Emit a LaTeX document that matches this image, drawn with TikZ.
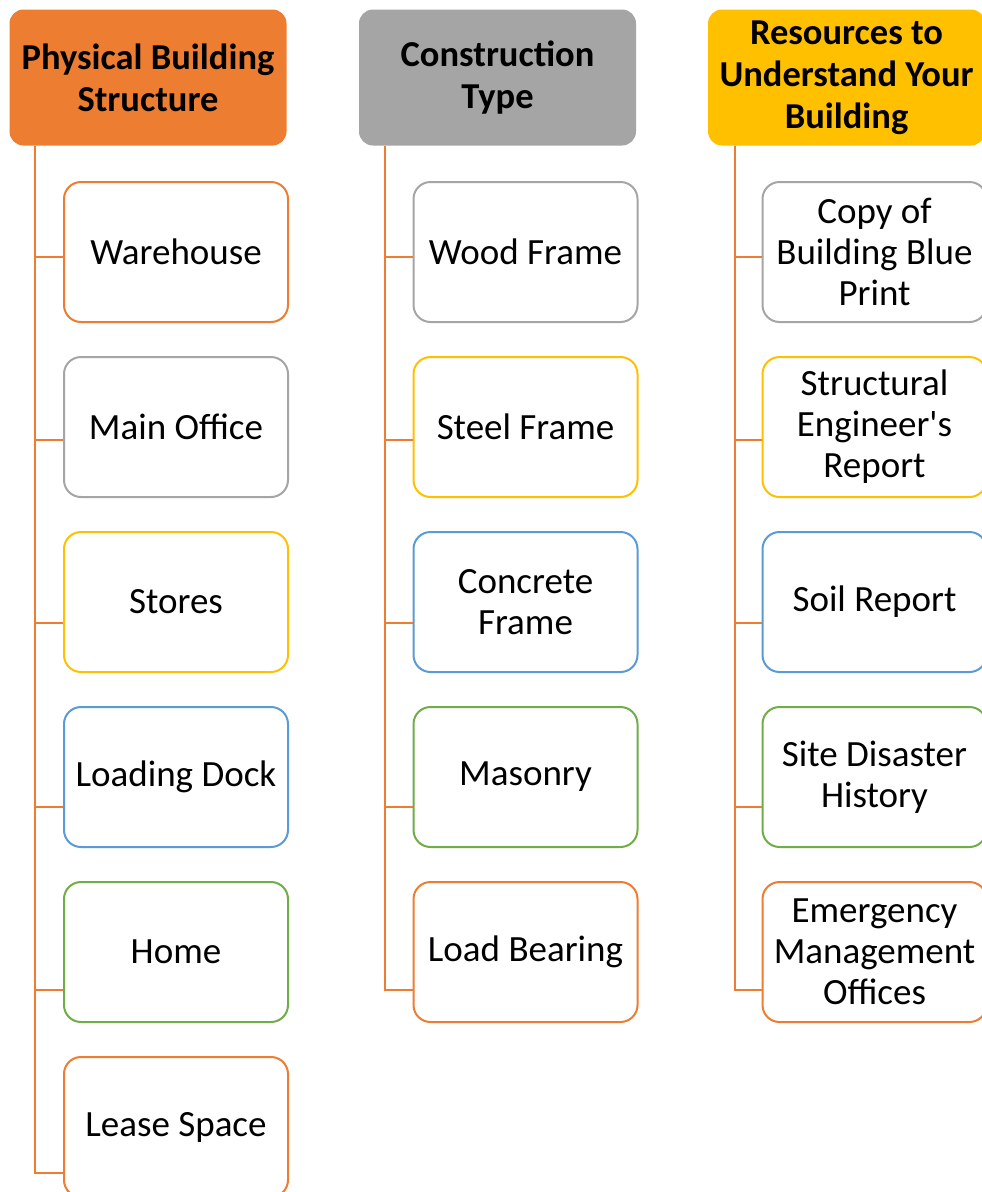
\documentclass[tikz,border=0pt]{standalone}
\usepackage{fontspec}
\setmainfont{Carlito}
\begin{document}
\begin{tikzpicture}[x={(1pt,0)},y={(0,-1pt)},
  hdr/.style={rounded corners=14pt, minimum width=277pt, minimum height=136pt,
    inner sep=0pt, align=center, text=black,
    font=\fontsize{36.5}{42}\selectfont\bfseries},
  item/.style={draw, line width=2pt, rounded corners=17pt, fill=white,
    minimum width=224pt, minimum height=140pt, inner sep=0pt, align=center,
    text=black, font=\fontsize{37}{41}\selectfont},
  conn/.style={draw=lineor, line width=2.5pt}
]
\definecolor{lineor}{HTML}{ED7D31}
\definecolor{cor}{HTML}{ED7D31}
\definecolor{cgray}{HTML}{A5A5A5}
\definecolor{cgold}{HTML}{FFC000}
\definecolor{cblue}{HTML}{5B9BD5}
\definecolor{cgreen}{HTML}{70AD47}

\fill[white] (0,0) rectangle (982,1192);
\useasboundingbox (0,0) rectangle (982,1192);
\clip (0,0) rectangle (982,1192);

% column headers
\node[hdr, fill=cor]   (h1) at (148,77.5) {Physical Building\\Structure};
\node[hdr, fill=cgray] (h2) at (497.5,77.5) {Construction\\Type};
\node[hdr, fill=cgold] (h3) at (846.5,77.5) {Resources to\\Understand Your\\Building};

% trunk tops
\coordinate (t1) at (35,146);
\coordinate (t2) at (385,146);
\coordinate (t3) at (735,146);

% column 1
\node[item, draw=cor]    (a1) at (176,252)  {Warehouse};
\node[item, draw=cgray]  (a2) at (176,427)  {Main Office};
\node[item, draw=cgold]  (a3) at (176,602)  {Stores};
\node[item, draw=cblue]  (a4) at (176,777)  {Loading Dock};
\node[item, draw=cgreen] (a5) at (176,952)  {Home};
\node[item, draw=cor]    (a6) at (176,1127) {Lease Space};

% column 2
\node[item, draw=cgray]  (b1) at (525.5,252) {Wood Frame};
\node[item, draw=cgold]  (b2) at (525.5,427) {Steel Frame};
\node[item, draw=cblue]  (b3) at (525.5,602) {Concrete\\Frame};
\node[item, draw=cgreen] (b4) at (525.5,777) {Masonry};
\node[item, draw=cor]    (b5) at (525.5,952) {Load Bearing};

% column 3
\node[item, draw=cgray]  (c1) at (874.5,252) {Copy of\\Building Blue\\Print};
\node[item, draw=cgold]  (c2) at (874.5,427) {Structural\\Engineer\textquotesingle s\\Report};
\node[item, draw=cblue]  (c3) at (874.5,602) {Soil Report};
\node[item, draw=cgreen] (c4) at (874.5,777) {Site Disaster\\History};
\node[item, draw=cor]    (c5) at (874.5,952) {Emergency\\Management\\Offices};

% connectors: trunk down to the last item, branches to the others
\draw[conn] (t1) |- (a6.west |- 0,1173);
\foreach \n/\y in {a1/257,a2/440,a3/623,a4/807,a5/990}
  \draw[conn] (t1 |- 0,\y) -- (\n.west |- 0,\y);

\draw[conn] (t2) |- (b5.west |- 0,990);
\foreach \n/\y in {b1/257,b2/440,b3/623,b4/807}
  \draw[conn] (t2 |- 0,\y) -- (\n.west |- 0,\y);

\draw[conn] (t3) |- (c5.west |- 0,990);
\foreach \n/\y in {c1/257,c2/440,c3/623,c4/807}
  \draw[conn] (t3 |- 0,\y) -- (\n.west |- 0,\y);
\end{tikzpicture}
\end{document}
